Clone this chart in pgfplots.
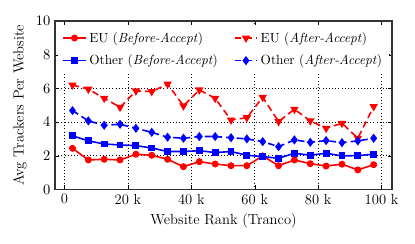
\documentclass[border=0pt]{standalone}
\usepackage{pgfplots}
\pgfplotsset{compat=1.18}
\begin{document}
\begin{tikzpicture}
\begin{axis}[
  scale only axis, width=254pt, height=127pt,
  xmin=-3000, xmax=103300, ymin=0, ymax=10,
  xtick={0,20000,40000,60000,80000,100000},
  xticklabels={0,20\ k,40\ k,60\ k,80\ k,100\ k},
  ytick={0,2,4,6,8,10},
  scaled x ticks=false,
  tick label style={font=\fontsize{11}{13}\selectfont},
  label style={font=\fontsize{11}{13}\selectfont},
  grid=major, grid style={dotted, black, line width=0.6pt},
  axis line style={line width=1pt, black!80},
  major tick length=3pt, tick style={black},
  xlabel={Website Rank (Tranco)},
  ylabel={Avg Trackers Per Website},
  legend columns=2, transpose legend,
  legend style={at={(0.5,0.975)}, anchor=north, draw=none, fill=white, font=\fontsize{10}{12}\selectfont,
    /tikz/every even column/.append style={column sep=10pt}, row sep=4pt, inner sep=3pt},
  legend cell align=left,
  every axis plot/.append style={line width=1.2pt},
]
\addplot[red, mark=*, mark size=2pt] coordinates {
(2500,2.44)(7500,1.75)(12500,1.79)(17500,1.75)(22500,2.09)(27500,2.03)(32500,1.79)(37500,1.35)(42500,1.65)(47500,1.51)
(52500,1.41)(57500,1.41)(62500,1.99)(67500,1.41)(72500,1.75)(77500,1.53)(82500,1.39)(87500,1.50)(92500,1.16)(97500,1.47)};
\addlegendentry{EU (\textit{Before-Accept})}
\addplot[blue, mark=square*, mark size=2pt] coordinates {
(2500,3.19)(7500,2.88)(12500,2.70)(17500,2.64)(22500,2.60)(27500,2.46)(32500,2.25)(37500,2.25)(42500,2.30)(47500,2.19)
(52500,2.25)(57500,2.03)(62500,1.95)(67500,1.85)(72500,2.15)(77500,2.03)(82500,2.15)(87500,1.99)(92500,2.01)(97500,2.09)};
\addlegendentry{Other (\textit{Before-Accept})}
\addplot[red, dash pattern=on 5pt off 3pt, mark=triangle*, mark size=2.5pt, mark options={solid, rotate=180}] coordinates {
(2500,6.20)(7500,5.95)(12500,5.41)(17500,4.88)(22500,5.85)(27500,5.81)(32500,6.26)(37500,4.96)(42500,5.91)(47500,5.41)
(52500,4.12)(57500,4.26)(62500,5.47)(67500,4.03)(72500,4.76)(77500,4.07)(82500,3.63)(87500,3.93)(92500,3.04)(97500,4.92)};
\addlegendentry{EU (\textit{After-Accept})}
\addplot[blue, dash pattern=on 5pt off 3pt, mark=diamond*, mark size=2.5pt, mark options={solid}] coordinates {
(2500,4.68)(7500,4.07)(12500,3.81)(17500,3.87)(22500,3.63)(27500,3.39)(32500,3.10)(37500,3.04)(42500,3.14)(47500,3.14)
(52500,3.07)(57500,3.00)(62500,2.84)(67500,2.54)(72500,2.94)(77500,2.80)(82500,2.90)(87500,2.78)(92500,2.88)(97500,3.04)};
\addlegendentry{Other (\textit{After-Accept})}
\end{axis}
\path ([xshift=-41.5pt,yshift=-41pt]current axis.south west) rectangle ([xshift=17.3pt,yshift=15.8pt]current axis.north east);
\end{tikzpicture}
\end{document}
